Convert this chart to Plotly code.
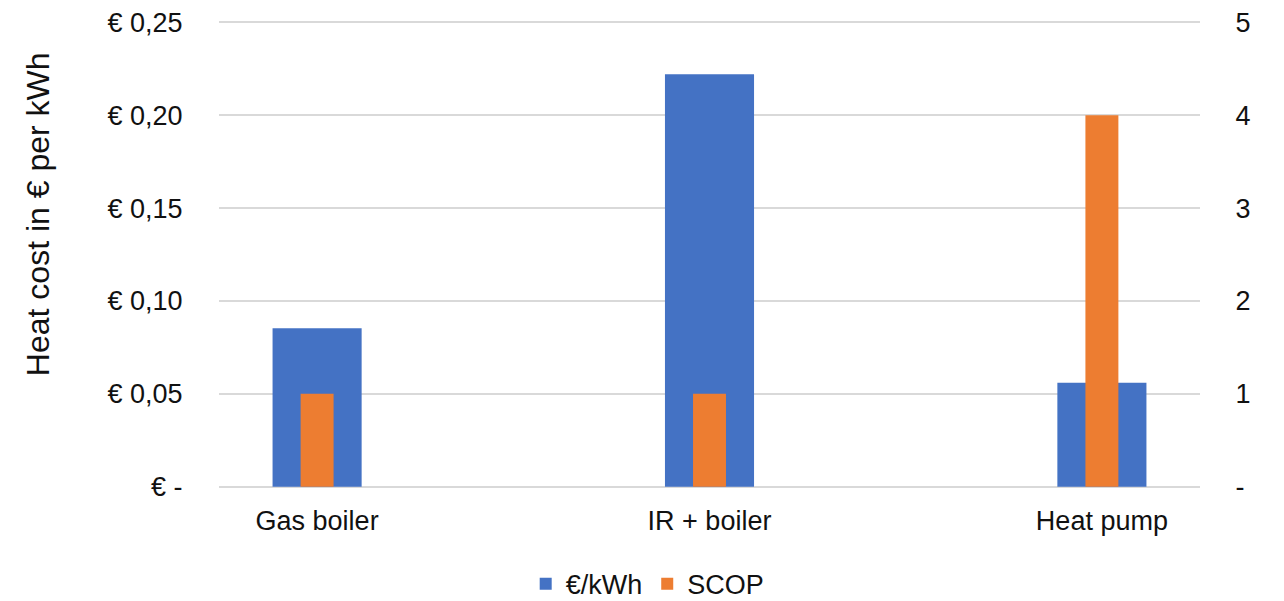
import plotly.graph_objects as go

# Heating options and their values
categories = ["Gas boiler", "IR + boiler", "Heat pump"]
cost_per_kwh = [0.0853, 0.222, 0.056]   # € per kWh of heat
scop = [1, 1, 4]                         # seasonal coefficient of performance

cost_ticks = [0, 0.05, 0.10, 0.15, 0.20, 0.25]
cost_tick_text = ["€ -", "€ 0,05", "€ 0,10", "€ 0,15", "€ 0,20", "€ 0,25"]
scop_ticks = [0, 1, 2, 3, 4, 5]
scop_tick_text = ["-", "1", "2", "3", "4", "5"]

BLUE = "#4472C4"
ORANGE = "#ED7D31"
GRID = "#D9D9D9"
FONT = "Liberation Sans, Arial, sans-serif"
TXT = "#111111"

# small padding so plotly keeps the gridlines at both ends of the range
PAD = 0.0012

fig = go.Figure()
fig.add_trace(go.Bar(
    x=categories, y=cost_per_kwh, name="€/kWh",
    marker=dict(color=BLUE, line=dict(width=0)),
    width=0.227, yaxis="y",
))
fig.add_trace(go.Bar(
    x=categories, y=scop, name="SCOP",
    marker=dict(color=ORANGE, line=dict(width=0)),
    width=0.084, yaxis="y2",
))

fig.update_layout(
    width=1284, height=601,
    margin=dict(l=219, r=84, t=20, b=112, autoexpand=False),
    paper_bgcolor="white", plot_bgcolor="white",
    barmode="overlay",
    font=dict(family=FONT, size=27, color=TXT),
    xaxis=dict(
        range=[-0.25, 2.25], showgrid=False, zeroline=False, showline=False,
        ticks="outside", ticklen=8, tickcolor="rgba(0,0,0,0)",
        tickfont=dict(size=27, color=TXT), automargin=False,
    ),
    yaxis=dict(
        range=[-PAD, 0.25 + PAD], tickvals=cost_ticks, ticktext=cost_tick_text,
        showgrid=True, gridcolor=GRID, gridwidth=2, zeroline=False, showline=False,
        ticks="outside", ticklen=30, tickcolor="rgba(0,0,0,0)",
        tickfont=dict(size=27, color=TXT), automargin=False,
    ),
    yaxis2=dict(
        range=[-PAD * 20, 5 + PAD * 20], tickvals=scop_ticks, ticktext=scop_tick_text,
        overlaying="y", side="right", showgrid=False, zeroline=False, showline=False,
        ticks="outside", ticklen=29, tickcolor="rgba(0,0,0,0)",
        tickfont=dict(size=27, color=TXT), automargin=False,
    ),
    legend=dict(
        orientation="h", x=0.437, xanchor="center", y=-0.203, yanchor="middle",
        font=dict(size=27, color=TXT), itemwidth=30, traceorder="normal",
    ),
    annotations=[dict(
        text="Heat cost in € per kWh", xref="paper", yref="paper",
        x=-0.185, y=0.585, xanchor="center", yanchor="middle",
        textangle=-90, showarrow=False, font=dict(size=32, color=TXT),
    )],
)

fig.write_html("out.html")
